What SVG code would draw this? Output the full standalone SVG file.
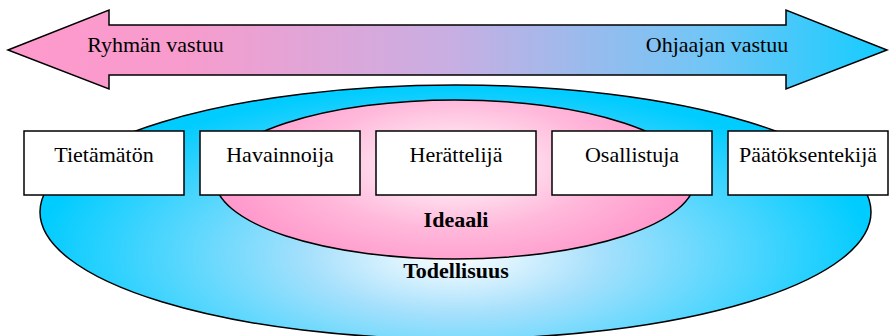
<svg xmlns="http://www.w3.org/2000/svg" width="893" height="336" viewBox="0 0 893 336">
<defs>
<linearGradient id="gArrow" x1="8" y1="0" x2="887" y2="0" gradientUnits="userSpaceOnUse">
<stop offset="0" stop-color="#FF99CC"/>
<stop offset="0.2" stop-color="#F79CCD"/>
<stop offset="0.5" stop-color="#C9AEE2"/>
<stop offset="0.8" stop-color="#6FC6F6"/>
<stop offset="1" stop-color="#14CCFF"/>
</linearGradient>
<radialGradient id="gOuter" cx="455" cy="255" r="420" gradientUnits="userSpaceOnUse" gradientTransform="translate(455 255) scale(1 0.4) translate(-455 -255)">
<stop offset="0" stop-color="#FFFFFF"/>
<stop offset="0.35" stop-color="#A6E0FC"/>
<stop offset="1" stop-color="#00CCFF"/>
</radialGradient>
<radialGradient id="gInner" cx="455" cy="165" r="240" gradientUnits="userSpaceOnUse" gradientTransform="translate(455 165) scale(1 0.45) translate(-455 -165)">
<stop offset="0" stop-color="#FFFFFF"/>
<stop offset="0.6" stop-color="#FFB8DA"/>
<stop offset="1" stop-color="#FF99CC"/>
</radialGradient>
</defs>
<style>
.edge{stroke:#000;stroke-width:1.5;}
.box{fill:#fff;stroke:#000;stroke-width:1.5;}
.lbl{font-family:'Liberation Serif','Times New Roman',serif;font-size:22px;fill:#000;text-anchor:middle;}
.blbl{font-family:'Liberation Serif','Times New Roman',serif;font-size:22px;font-weight:bold;fill:#000;text-anchor:middle;}
</style>
<g id="arrow">
<polygon class="edge" fill="url(#gArrow)" points="8,50 109,10 109,25 786,25 786,10 887,50 786,89 786,75 109,75 109,89"/>
<text class="lbl" x="155.5" y="52">Ryhmän vastuu</text>
<text class="lbl" x="717" y="52">Ohjaajan vastuu</text>
</g>
<g id="todellisuus">
<ellipse class="edge" fill="url(#gOuter)" cx="455.5" cy="212" rx="415.5" ry="127"/>
<text class="blbl" x="456" y="278">Todellisuus</text>
</g>
<g id="ideaali">
<ellipse class="edge" fill="url(#gInner)" cx="455" cy="179.5" rx="240" ry="79.5"/>
<text class="blbl" x="456" y="227">Ideaali</text>
</g>
<g id="connectors"></g>
<g id="tietamaton">
<rect class="box" x="24" y="131" width="160" height="64"/>
<text class="lbl" x="104" y="162">Tietämätön</text>
</g>
<g id="havainnoija">
<rect class="box" x="200" y="131" width="160" height="64"/>
<text class="lbl" x="280" y="162">Havainnoija</text>
</g>
<g id="herattelija">
<rect class="box" x="376" y="131" width="160" height="64"/>
<text class="lbl" x="456" y="162">Herättelijä</text>
</g>
<g id="osallistuja">
<rect class="box" x="552" y="131" width="160" height="64"/>
<text class="lbl" x="632" y="162">Osallistuja</text>
</g>
<g id="paatoksentekija">
<rect class="box" x="728" y="131" width="160" height="64"/>
<text class="lbl" x="808" y="162">Päätöksentekijä</text>
</g>
</svg>
